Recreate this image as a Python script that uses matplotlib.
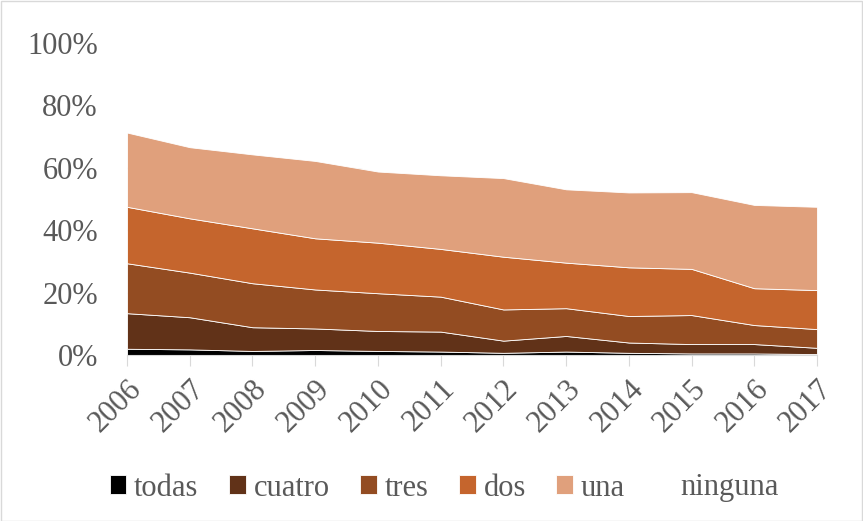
import matplotlib
matplotlib.use("Agg")
import matplotlib.pyplot as plt
from matplotlib.ticker import FuncFormatter
import numpy as np

years = [2006, 2007, 2008, 2009, 2010, 2011, 2012, 2013, 2014, 2015, 2016, 2017]
todas = [2.0, 1.8, 1.3, 1.6, 1.3, 1.1, 0.7, 1.1, 0.7, 0.5, 0.5, 0.3]
cuatro = [11.4, 10.3, 7.6, 6.9, 6.4, 6.4, 3.9, 5.0, 3.3, 3.0, 3.0, 2.0]
tres = [16.0, 14.3, 14.1, 12.5, 12.1, 11.2, 10.0, 8.9, 8.5, 9.3, 6.1, 6.0]
dos = [18.1, 17.4, 17.6, 16.4, 16.2, 15.3, 16.9, 14.6, 15.6, 14.8, 11.8, 12.5]
una = [23.8, 22.8, 23.7, 24.8, 22.8, 23.6, 25.2, 23.5, 24.0, 24.6, 26.7, 26.7]
ninguna = [28.7, 33.4, 35.7, 37.8, 41.2, 42.4, 43.3, 46.9, 48.2, 47.8, 51.9, 52.5]

labels = ["todas", "cuatro", "tres", "dos", "una", "ninguna"]
colors = ["#000000", "#613218", "#934C22", "#C5652D", "#E0A07C", "#FFFFFF"]

plt.rcParams['font.family'] = ['Liberation Serif', 'DejaVu Serif']

fig = plt.figure(figsize=(8.63, 5.21), dpi=100)
W, H = 863, 521
ax = fig.add_axes([127 / W, 1 - 355 / H, (817 - 127) / W, (355 - 43) / H])

polys = ax.stackplot(years, todas, cuatro, tres, dos, una, ninguna,
                     colors=colors, labels=labels,
                     edgecolor="white", linewidth=0.6)
polys[-1].set_edgecolor("none")

ax.set_xlim(years[0], years[-1])
ax.set_ylim(0, 100)
ax.set_yticks([0, 20, 40, 60, 80, 100])
ax.yaxis.set_major_formatter(FuncFormatter(lambda v, p: f"{int(v)}%"))
ax.set_xticks(years)
ax.set_xticklabels([str(y) for y in years], rotation=45, ha="right",
                   rotation_mode="anchor")
ax.grid(axis="y", color="#D9D9D9", linewidth=1)
ax.set_axisbelow(True)
for s in ["top", "right", "left"]:
    ax.spines[s].set_visible(False)
ax.spines["bottom"].set_color("#D9D9D9")
ax.spines["bottom"].set_zorder(5)
ax.tick_params(axis="y", length=0, labelsize=22, labelcolor="#595959", pad=21)
ax.tick_params(axis="x", length=8, color="#D9D9D9", labelsize=22,
               labelcolor="#595959", pad=6)

fig.legend(handles=polys, labels=labels, loc="center", ncol=6,
           bbox_to_anchor=(444 / W, 1 - 488 / H), frameon=False,
           fontsize=22, labelcolor="#595959", handlelength=0.55,
           handleheight=0.55, handletextpad=0.25, columnspacing=1.0)

border = plt.Rectangle((0.5 / W, 0.5 / H), 1 - 1.5 / W, 1 - 1.5 / H,
                       transform=fig.transFigure, fill=False,
                       edgecolor="#D9D9D9", linewidth=1)
fig.patches.append(border)

fig.savefig("out.png", dpi=100)
